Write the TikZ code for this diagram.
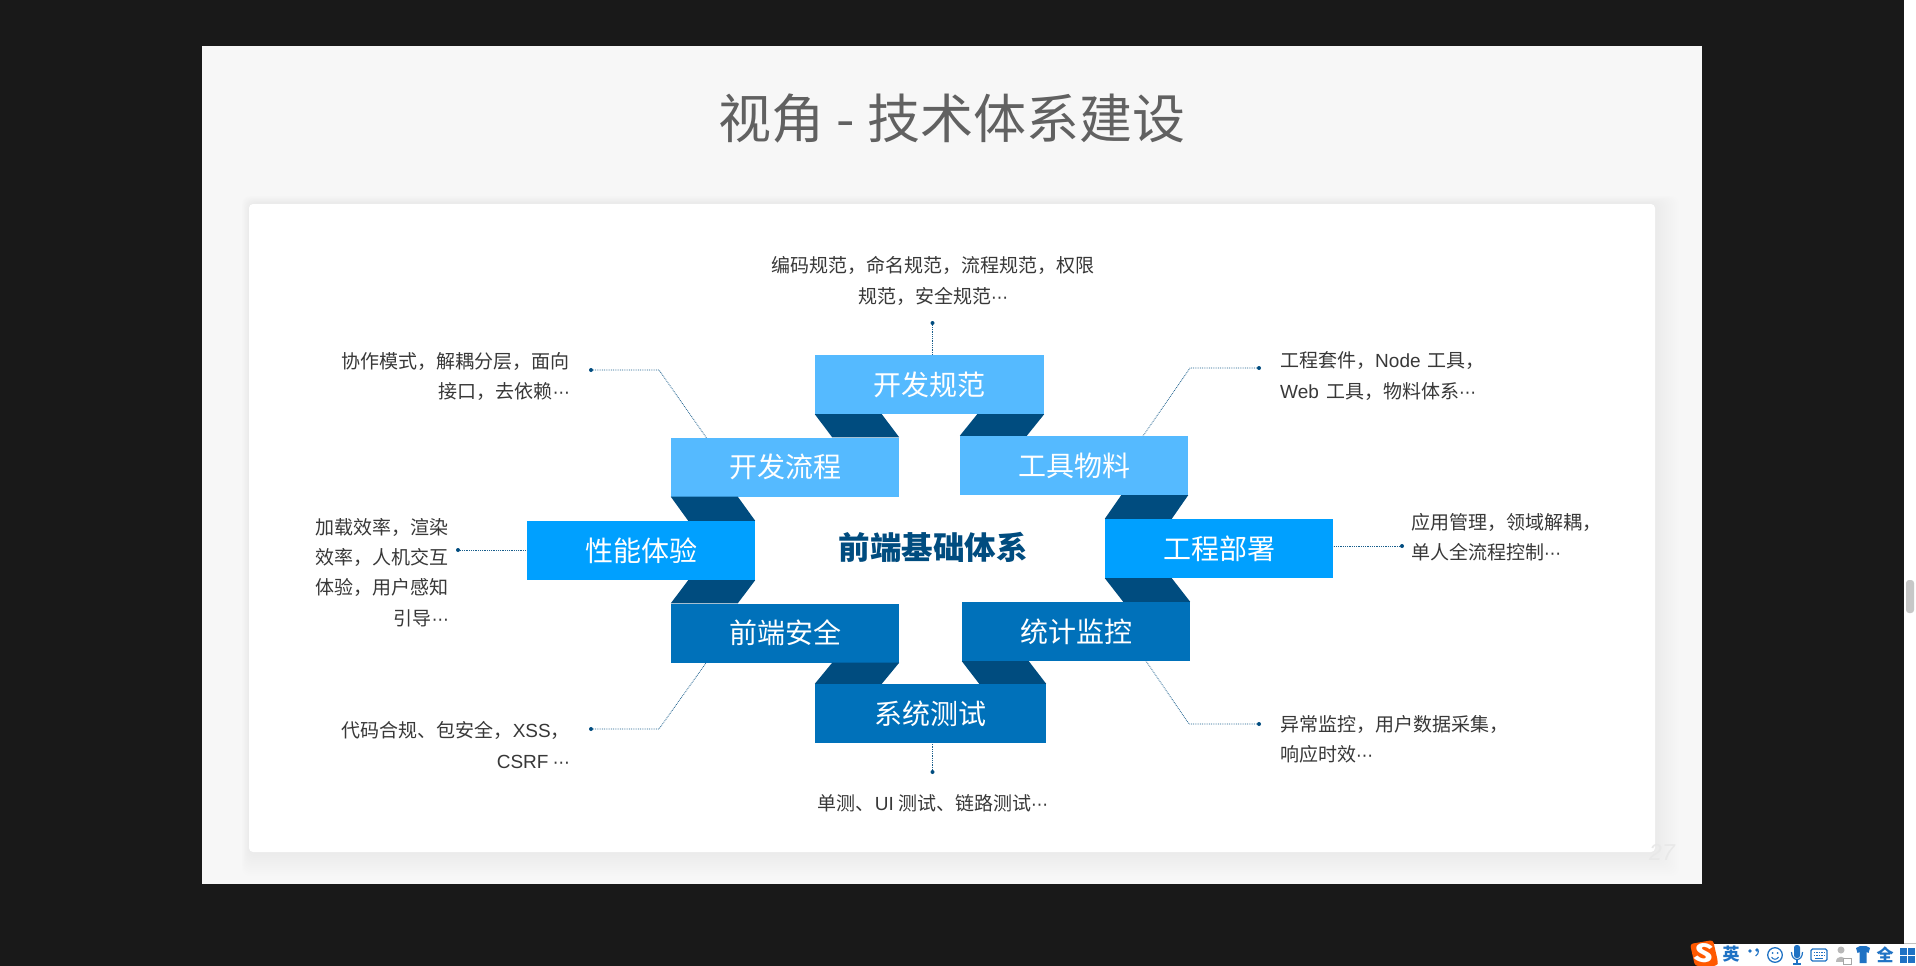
\documentclass[tikz,border=0pt]{standalone}
\usepackage{fontspec}
\usepackage{xcolor}
\setmainfont{Noto Sans CJK SC}
\newfontfamily\pagefont{Liberation Sans}
\newfontfamily\latinfont{Liberation Sans}
\newfontfamily\dotsfont{DejaVu Sans}
\usetikzlibrary{positioning,calc}
\definecolor{lightblue}{HTML}{55BAFF}
\definecolor{midblue}{HTML}{00A0FF}
\definecolor{deepblue}{HTML}{0071BA}
\definecolor{foldblue}{HTML}{004C7F}
\definecolor{imeblue}{HTML}{1F72C4}
\tikzset{
band/.style={
minimum width=228pt,
minimum height=59pt,
inner sep=0pt,
align=center,
text=white,
font=\fontsize{28}{32}\selectfont
},
lightband/.style={band,fill=lightblue},
midband/.style={band,fill=midblue},
deepband/.style={band,fill=deepblue},
fold/.style={fill=foldblue},
leader/.style={densely dotted,line width=0.8pt,color=foldblue!90},
enddot/.style={circle,fill=foldblue,inner sep=0pt,minimum size=4pt},
note/.style={
inner sep=0pt,
text=black!78,
font=\fontsize{19}{30.3}\selectfont
},
leftnote/.style={note,anchor=east,align=right},
rightnote/.style={note,anchor=west,align=left},
icon/.style={inner sep=0pt,text=imeblue,font=\bfseries\fontsize{17}{18}\selectfont}
}
\newcommand{\ribbon}[3]{\fill[fold] (#1) -- ($(#1)+(#3,0)$) -- (#2) -- ($(#2)-(#3,0)$) -- cycle;}
\newcommand{\mdots}{{\dotsfont\fontsize{17}{30.3}\selectfont ⋯}}

\begin{document}
\begin{tikzpicture}[x=1pt,y=-1pt]
\useasboundingbox (0,0) rectangle (1916,966);
\fill[black!90] (0,0) rectangle (1916,966);
% slide and panel
\fill[black!3] (202,46) rectangle (1702,884);
\foreach \i in {1,...,12}{
\fill[black,opacity=0.003,rounded corners=8pt] (249-0.6*\i,203-0.6*\i) rectangle (1655+2*\i,852+2*\i);
}
\fill[white,rounded corners=4pt] (249,204) rectangle (1655,852);
\node[inner sep=0pt,text=black!62,font=\fontsize{53}{58}\selectfont](title) at (952,118.5){视角 - 技术体系建设};
\node[inner sep=0pt,text=black!9,font=\pagefont\itshape\fontsize{23}{24}\selectfont](pagenum) at (1662,852){27};

% bands
\node[lightband,minimum width=229pt](dev) at (929.5,384.5){开发规范};
\node[lightband](flow) at (785,467){开发流程};
\node[lightband](tool) at (1074,465.5){工具物料};
\node[midband](perf) at (641,550.5){性能体验};
\node[midband](deploy) at (1219,548.5){工程部署};
\node[deepband](secu) at (785,633){前端安全};
\node[deepband](stat) at (1076,631.5){统计监控};
\node[deepband,minimum width=231pt](test) at (930.5,713.5){系统测试};
\node[inner sep=0pt,text=foldblue,font=\bfseries\fontsize{31.5}{34}\selectfont](core) at (933,547){前端基础体系};

% folds
\ribbon{dev.south west}{flow.north east}{67}
\ribbon{dev.south east}{tool.north west}{-67}
\ribbon{flow.south west}{perf.north east}{67}
\ribbon{tool.south east}{deploy.north west}{-67}
\ribbon{perf.south east}{secu.north west}{-67}
\ribbon{deploy.south west}{stat.north east}{67}
\ribbon{secu.south east}{test.north west}{-67}
\ribbon{stat.south west}{test.north east}{67}

% end dots
\node[enddot](dotdev) at (932.5,323){};
\node[enddot](dotflow) at (591,370){};
\node[enddot](dottool) at (1259,368){};
\node[enddot](dotperf) at (458,550){};
\node[enddot](dotdeploy) at (1402,546){};
\node[enddot](dotsecu) at (591,729){};
\node[enddot](dotstat) at (1259,724){};
\node[enddot](dottest) at (932.5,772){};
\coordinate(kneeflow) at (659,370);
\coordinate(kneetool) at (1190,368);
\coordinate(kneesecu) at (659,729);
\coordinate(kneestat) at (1189,724);
\coordinate(endflow) at (706.6,438);
\coordinate(endtool) at (1143,436);
\coordinate(endsecu) at (706,663);
\coordinate(endstat) at (1146,661);

\draw[leader](dotdev)--(dotdev|-dev.north);
\draw[leader](dotflow)--(kneeflow)--(endflow);
\draw[leader](dottool)--(kneetool)--(endtool);
\draw[leader](dotperf)--(dotperf-|perf.west);
\draw[leader](dotdeploy)--(dotdeploy-|deploy.east);
\draw[leader](dotsecu)--(kneesecu)--(endsecu);
\draw[leader](dotstat)--(kneestat)--(endstat);
\draw[leader](dottest)--(dottest|-test.south);

% notes
\node[note,align=center](notedev) at (933,281){编码规范，命名规范，流程规范，权限\\规范，安全规范\mdots};
\node[leftnote](noteflow) at (570,376.5){协作模式，解耦分层，面向\\接口，去依赖\mdots};
\node[rightnote](notetool) at (1280,376){工程套件，{\latinfont Node}\hspace{.15em} 工具，\\{\latinfont Web}\hspace{.15em} 工具，物料体系\mdots};
\node[leftnote](noteperf) at (449,572.5){加载效率，渲染\\效率，人机交互\\体验，用户感知\\引导\mdots};
\node[rightnote](notedeploy) at (1411,537.5){应用管理，领域解耦，\\单人全流程控制\mdots};
\node[leftnote](notesecu) at (570,745){代码合规、包安全，{\latinfont XSS}，\\{\latinfont CSRF} \mdots};
\node[rightnote](notestat) at (1280,739){异常监控，用户数据采集，\\响应时效\mdots};
\node[note,align=center](notetest) at (933,803){单测、{\latinfont UI} 测试、链路测试\mdots};

% window edge and input bar
\fill[white] (1904,0) rectangle (1916,966);
\fill[black!22,rounded corners=3pt] (1906,580) rectangle (1914,613);
\fill[white] (1704,944) rectangle (1916,966);
\draw[black!25] (1904,943.5)--(1916,943.5);
\fill[orange!70!red,rounded corners=3pt] (1690,944) -- (1713,940) -- (1718,962) -- (1717,966) -- (1695,966) -- cycle;
\node[inner sep=0pt,text=white,rotate=-10,xscale=1.25,font=\bfseries\fontsize{25}{26}\selectfont](logo) at (1703.5,953){S};
\node[icon](imelang) at (1731,954){英};
\fill[imeblue] (1750,951) circle (1.8pt);
\fill[imeblue] (1757,950) circle (1.9pt);
\draw[imeblue,line width=1.1pt] (1758.5,950.5) .. controls (1758.5,953) and (1757.5,955) .. (1755.5,956);
\draw[imeblue,line width=1.3pt] (1775,955) circle (7.3pt);
\fill[imeblue] (1772.5,953) circle (1pt) (1777.5,953) circle (1pt);
\draw[imeblue,line width=1pt] (1771.5,957) .. controls (1773,960) and (1777,960) .. (1778.5,957);
\fill[imeblue,rounded corners=2.5pt] (1794,945) rectangle (1800,958);
\draw[imeblue,line width=1.2pt] (1791.5,952) .. controls (1791.5,962) and (1802.5,962) .. (1802.5,952);
\draw[imeblue,line width=1.2pt] (1797,960)--(1797,964)--(1793,964)--(1801,964);
\draw[imeblue,line width=1.3pt,rounded corners=1.5pt] (1811,949) rectangle (1827,961);
\draw[imeblue,line width=1.6pt,densely dotted] (1813.5,952.5)--(1825,952.5) (1813.5,955.5)--(1825,955.5);
\draw[imeblue,line width=1.2pt] (1815,958.5)--(1823,958.5);
\fill[black!28] (1841,950) circle (3.5pt);
\fill[black!28] (1836,962) .. controls (1836,955) and (1846,955) .. (1846,962) -- cycle;
\draw[black!35,fill=white,line width=0.8pt] (1843,958) rectangle (1851,964);
\fill[imeblue] (1856,948) -- (1860,946) -- (1866,946) -- (1870,948) -- (1868.5,953) -- (1866.5,952) -- (1866.5,963) -- (1859.5,963) -- (1859.5,952) -- (1857.5,953) -- cycle;
\node[icon](imefull) at (1885,955){全};
\foreach \a/\b in {1900/948,1908/948,1900/956,1908/956}{
\fill[imeblue] (\a,\b) rectangle (\a+6.5,\b+6.5);
}
\end{tikzpicture}
\end{document}
